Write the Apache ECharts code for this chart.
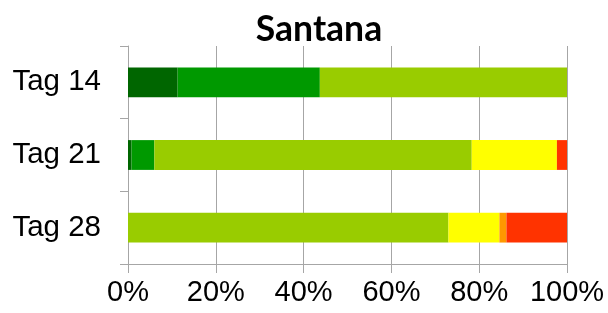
<!DOCTYPE html>
<html><head><meta charset="utf-8">
<script src="https://cdn.jsdelivr.net/npm/echarts@6/dist/echarts.min.js"></script>
<style>html,body{margin:0;padding:0;background:#fff}#c{width:608px;height:313px}</style>
</head><body><div id="c"></div>
<script>
const categories = ['Tag 14', 'Tag 21', 'Tag 28'];
const xTicks = [0, 20, 40, 60, 80, 100];
const seriesNames = ['s1', 's2', 's3', 's4', 's5', 's6'];
const s1 = [11.3, 0.8, 0];
const s2 = [32.4, 5.2, 0];
const s3 = [56.3, 72.3, 73.0];
const s4 = [0, 19.4, 11.6];
const s5 = [0, 0, 1.6];
const s6 = [0, 2.3, 13.8];
const colors = ['#006600', '#009900', '#99CC00', '#FFFF00', '#FF9900', '#FF3300'];
const values = [s1, s2, s3, s4, s5, s6];

const chart = echarts.init(document.getElementById('c'));
const gray = '#A6A6A6';
chart.setOption({
  animation: false,
  title: {
    text: 'Santana', left: 314, top: 7, textAlign: 'center',
    textStyle: { fontFamily: 'Lato', fontWeight: 'bold', fontSize: 35.5, color: '#000' }
  },
  grid: { left: 128, right: 41, top: 46, bottom: 49, containLabel: false },
  xAxis: {
    type: 'value', min: xTicks[0], max: xTicks[xTicks.length - 1], interval: 20,
    axisLine: { show: true, lineStyle: { color: gray, width: 1 } },
    axisTick: { show: true, length: 9, lineStyle: { color: gray } },
    splitLine: { show: true, lineStyle: { color: gray, width: 1 } },
    axisLabel: { formatter: '{value}%', fontFamily: 'Liberation Sans', fontSize: 29, color: '#000', margin: 14 }
  },
  yAxis: {
    type: 'category', data: categories, inverse: true,
    axisLine: { show: true, lineStyle: { color: gray, width: 1 } },
    axisTick: { show: true, length: 8, lineStyle: { color: gray } },
    axisLabel: { fontFamily: 'Liberation Sans', fontSize: 29.5, color: '#000', margin: 27 }
  },
  series: values.map((v, i) => ({
    name: seriesNames[i], type: 'bar', stack: 'total', data: v,
    barWidth: '41%', itemStyle: { color: colors[i] }
  }))
});
</script></body></html>
